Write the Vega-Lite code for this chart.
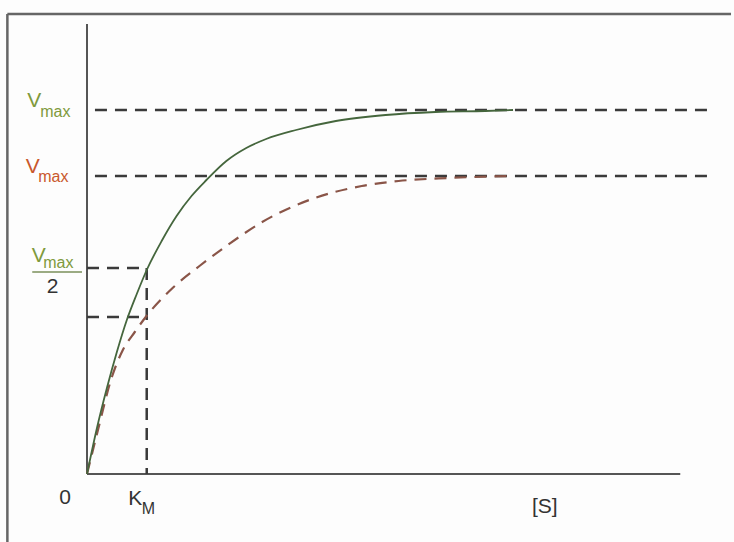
{
  "$schema": "https://vega.github.io/schema/vega-lite/v6.json",
  "width": 647,
  "height": 450,
  "autosize": {"type": "none"},
  "padding": {"left": 87, "top": 24, "right": 0, "bottom": 68},
  "background": "#fdfdfd",
  "config": {"view": {"stroke": null}},
  "datasets": {
    "green": [
      {"s": 0, "v": 0}, {"s": 10, "v": 46}, {"s": 20, "v": 86}, {"s": 30, "v": 122},
      {"s": 40, "v": 154}, {"s": 50, "v": 180}, {"s": 60, "v": 204}, {"s": 75, "v": 233},
      {"s": 90, "v": 258}, {"s": 105, "v": 278}, {"s": 120, "v": 294}, {"s": 140, "v": 313},
      {"s": 160, "v": 326}, {"s": 180, "v": 335}, {"s": 210, "v": 344}, {"s": 250, "v": 353},
      {"s": 300, "v": 359}, {"s": 350, "v": 362}, {"s": 400, "v": 363}, {"s": 428, "v": 364}
    ],
    "red": [
      {"s": 0, "v": 0}, {"s": 10, "v": 40}, {"s": 25, "v": 97}, {"s": 36, "v": 124},
      {"s": 48, "v": 142}, {"s": 59, "v": 157}, {"s": 86, "v": 186}, {"s": 113, "v": 208},
      {"s": 140, "v": 228}, {"s": 176, "v": 252}, {"s": 226, "v": 275}, {"s": 276, "v": 288},
      {"s": 313, "v": 293}, {"s": 363, "v": 296}, {"s": 428, "v": 298}
    ],
    "guides": [
      {"x": 8, "x2": 628, "y": 364, "y2": 364},
      {"x": 8, "x2": 628, "y": 298, "y2": 298},
      {"x": 0, "x2": 60, "y": 206, "y2": 206},
      {"x": 0, "x2": 60, "y": 157, "y2": 157},
      {"x": 60, "x2": 60, "y": 206, "y2": 0}
    ],
    "axes": [
      {"x": 0, "x2": 596, "y": 0, "y2": 0},
      {"x": 0, "x2": 0, "y": 0, "y2": 450}
    ],
    "frame": [
      {"x": -80, "x2": 647, "y": 460, "y2": 460},
      {"x": -80, "x2": -80, "y": 460, "y2": -68}
    ],
    "bigLabels": [
      {"t": "V", "x": -53, "y": 367, "c": "g"},
      {"t": "V", "x": -54.5, "y": 301, "c": "r"},
      {"t": "V", "x": -48.5, "y": 212, "c": "g"},
      {"t": "2", "x": -34.5, "y": 181, "c": "k"},
      {"t": "0", "x": -22, "y": -30, "c": "k"},
      {"t": "K", "x": 48.5, "y": -31, "c": "k"},
      {"t": "[S]", "x": 460, "y": -39, "c": "k"}
    ],
    "smallLabels": [
      {"t": "max", "x": -47, "y": 357, "c": "g"},
      {"t": "max", "x": -49, "y": 292, "c": "r"},
      {"t": "max", "x": -44, "y": 206, "c": "g"},
      {"t": "M", "x": 55, "y": -40, "c": "k"}
    ],
    "bar": [{"x": -55, "x2": -5, "y": 202, "y2": 202}]
  },
  "layer": [
    {
      "data": {"name": "frame"},
      "mark": {"type": "rule", "color": "#666", "strokeWidth": 2.5},
      "encoding": {
        "x": {"field": "x", "type": "quantitative", "scale": {"domain": [0, 647]}, "axis": null},
        "x2": {"field": "x2"},
        "y": {"field": "y", "type": "quantitative", "scale": {"domain": [0, 450]}, "axis": null},
        "y2": {"field": "y2"}
      }
    },
    {
      "data": {"name": "axes"},
      "mark": {"type": "rule", "color": "#555", "strokeWidth": 2},
      "encoding": {
        "x": {"field": "x", "type": "quantitative"},
        "x2": {"field": "x2"},
        "y": {"field": "y", "type": "quantitative"},
        "y2": {"field": "y2"}
      }
    },
    {
      "data": {"name": "guides"},
      "mark": {"type": "rule", "color": "#3a3a3a", "strokeWidth": 2.5, "strokeDash": [12, 8]},
      "encoding": {
        "x": {"field": "x", "type": "quantitative"},
        "x2": {"field": "x2"},
        "y": {"field": "y", "type": "quantitative"},
        "y2": {"field": "y2"}
      }
    },
    {
      "data": {"name": "red"},
      "mark": {"type": "line", "color": "#8a5548", "strokeWidth": 2.2, "strokeDash": [12, 8], "interpolate": "monotone"},
      "encoding": {
        "x": {"field": "s", "type": "quantitative"},
        "y": {"field": "v", "type": "quantitative"}
      }
    },
    {
      "data": {"name": "green"},
      "mark": {"type": "line", "color": "#45663d", "strokeWidth": 1.8, "interpolate": "monotone"},
      "encoding": {
        "x": {"field": "s", "type": "quantitative"},
        "y": {"field": "v", "type": "quantitative"}
      }
    },
    {
      "data": {"name": "bar"},
      "mark": {"type": "rule", "color": "#7a8f5a", "strokeWidth": 1.5},
      "encoding": {
        "x": {"field": "x", "type": "quantitative"},
        "x2": {"field": "x2"},
        "y": {"field": "y", "type": "quantitative"},
        "y2": {"field": "y2"}
      }
    },
    {
      "data": {"name": "bigLabels"},
      "mark": {"type": "text", "font": "Liberation Sans", "fontSize": 21, "align": "center", "baseline": "alphabetic"},
      "encoding": {
        "x": {"field": "x", "type": "quantitative"},
        "y": {"field": "y", "type": "quantitative"},
        "text": {"field": "t"},
        "color": {"field": "c", "type": "nominal", "scale": {"domain": ["g", "r", "k"], "range": ["#7f9a3c", "#c9582c", "#333333"]}, "legend": null}
      }
    },
    {
      "data": {"name": "smallLabels"},
      "mark": {"type": "text", "font": "Liberation Sans", "fontSize": 16, "align": "left", "baseline": "alphabetic"},
      "encoding": {
        "x": {"field": "x", "type": "quantitative"},
        "y": {"field": "y", "type": "quantitative"},
        "text": {"field": "t"},
        "color": {"field": "c", "type": "nominal", "scale": {"domain": ["g", "r", "k"], "range": ["#7f9a3c", "#c9582c", "#333333"]}, "legend": null}
      }
    }
  ]
}
